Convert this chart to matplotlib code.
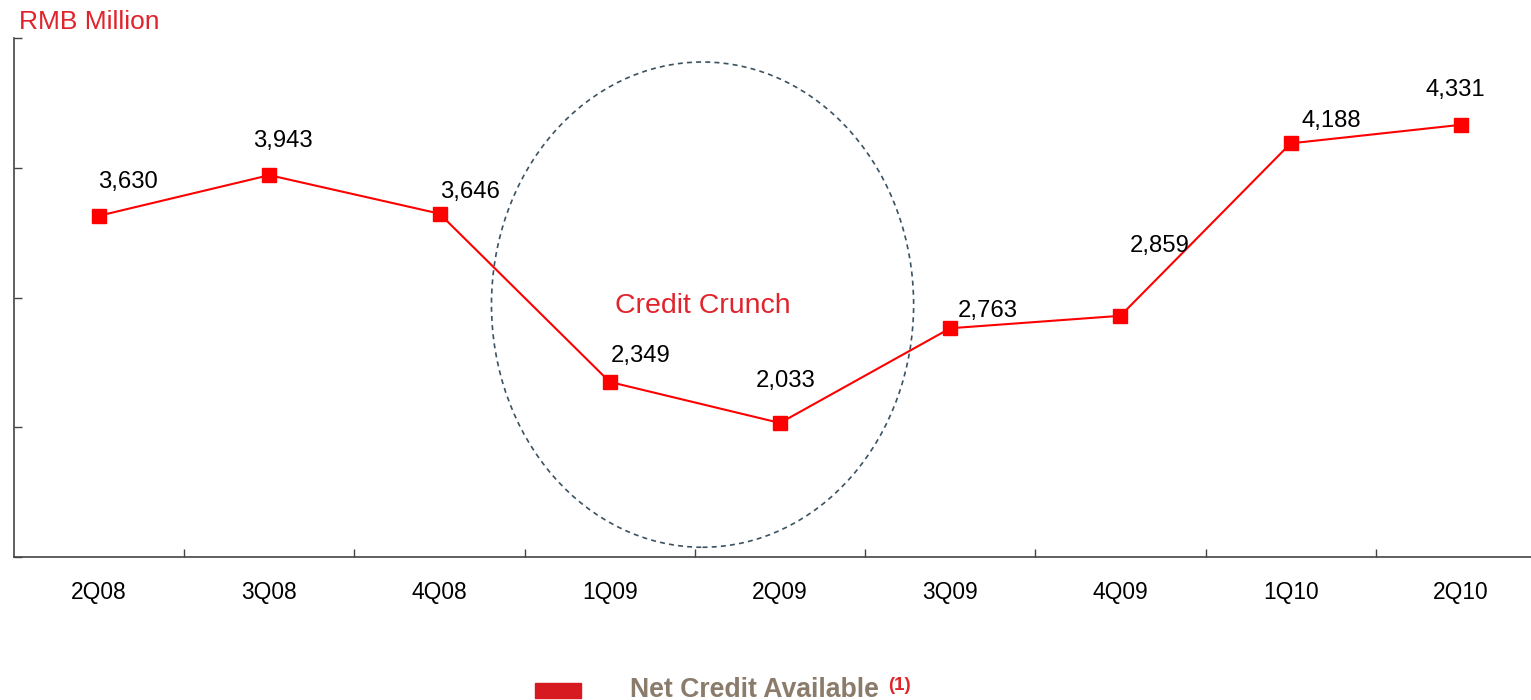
import matplotlib.pyplot as plt
from matplotlib.patches import Ellipse, Rectangle

# Net credit available per quarter (RMB million)
quarters = ['2Q08', '3Q08', '4Q08', '1Q09', '2Q09', '3Q09', '4Q09', '1Q10', '2Q10']
net_credit = [3630, 3943, 3646, 2349, 2033, 2763, 2859, 4188, 4331]

# label offsets from each point, in pixels (dx, dy)
label_offsets = [(29, 34), (14, 34), (30, 22), (31, 26), (6, 42), (38, 17), (39, 70), (41, 22), (-6, 35)]

plt.rcParams['font.family'] = ['Liberation Sans', 'DejaVu Sans']

fig = plt.figure(figsize=(15.31, 7.0), dpi=100)
ax = fig.add_axes([14 / 1531, 1 - 557 / 700, 1532 / 1531, 519 / 700])

x = list(range(len(quarters)))
ax.plot(x, net_credit, color='#ff0000', lw=1.5, marker='s', ms=9.5,
        markerfacecolor='#ff0000', markeredgecolor='#ff0000', zorder=3)

for i, v in enumerate(net_credit):
    dx, dy = label_offsets[i]
    ax.annotate(f'{v:,}', (i, v), xytext=(dx * 0.72, dy * 0.72), textcoords='offset points',
                ha='center', va='center', fontsize=17.2, color='black')

# dashed ring around the crunch quarters
ax.add_patch(Ellipse((3.545, 2945), 2.48, 3740, fill=False, ls=(0, (3, 2.5)),
                     lw=1.2, edgecolor='#3b5260', zorder=2))
ax.text(3.545, 2935, 'Credit Crunch', ha='center', va='center', fontsize=20.5, color='#e0242c')

ax.set_xlim(-0.5, 8.5)
ax.set_ylim(1000, 5000)
ax.set_yticks([1000, 2000, 3000, 4000, 5000])
ax.set_yticklabels([])
ax.set_xticks([i + 0.5 for i in range(8)])
ax.set_xticklabels([])
ax.set_xticks(x, minor=True)
ax.set_xticklabels(quarters, minor=True, fontsize=16.4)
ax.tick_params(axis='x', which='minor', length=0, pad=17)
ax.tick_params(axis='both', which='major', direction='in', length=6, width=1, color='#444444')

for s in ['top', 'right']:
    ax.spines[s].set_visible(False)
for s in ['left', 'bottom']:
    ax.spines[s].set_color('#444444')
    ax.spines[s].set_linewidth(1.2)

fig.text(19 / 1531, 1 - 22 / 700, 'RMB Million', ha='left', va='center', fontsize=19, color='#e0242c')

# legend drawn by hand below the axis
fig.patches.append(Rectangle((535 / 1531, 1 - 698 / 700), 46 / 1531, 15 / 700,
                             transform=fig.transFigure, color='#d71920'))
fig.text(630 / 1531, 1 - 690 / 700, 'Net Credit Available', ha='left', va='center',
         fontsize=19.2, fontweight='bold', color='#8a7b6a')
fig.text(888 / 1531, 1 - 685 / 700, '(1)', ha='left', va='center',
         fontsize=13.5, fontweight='bold', color='#e0242c')

fig.savefig('out.png', dpi=100)
